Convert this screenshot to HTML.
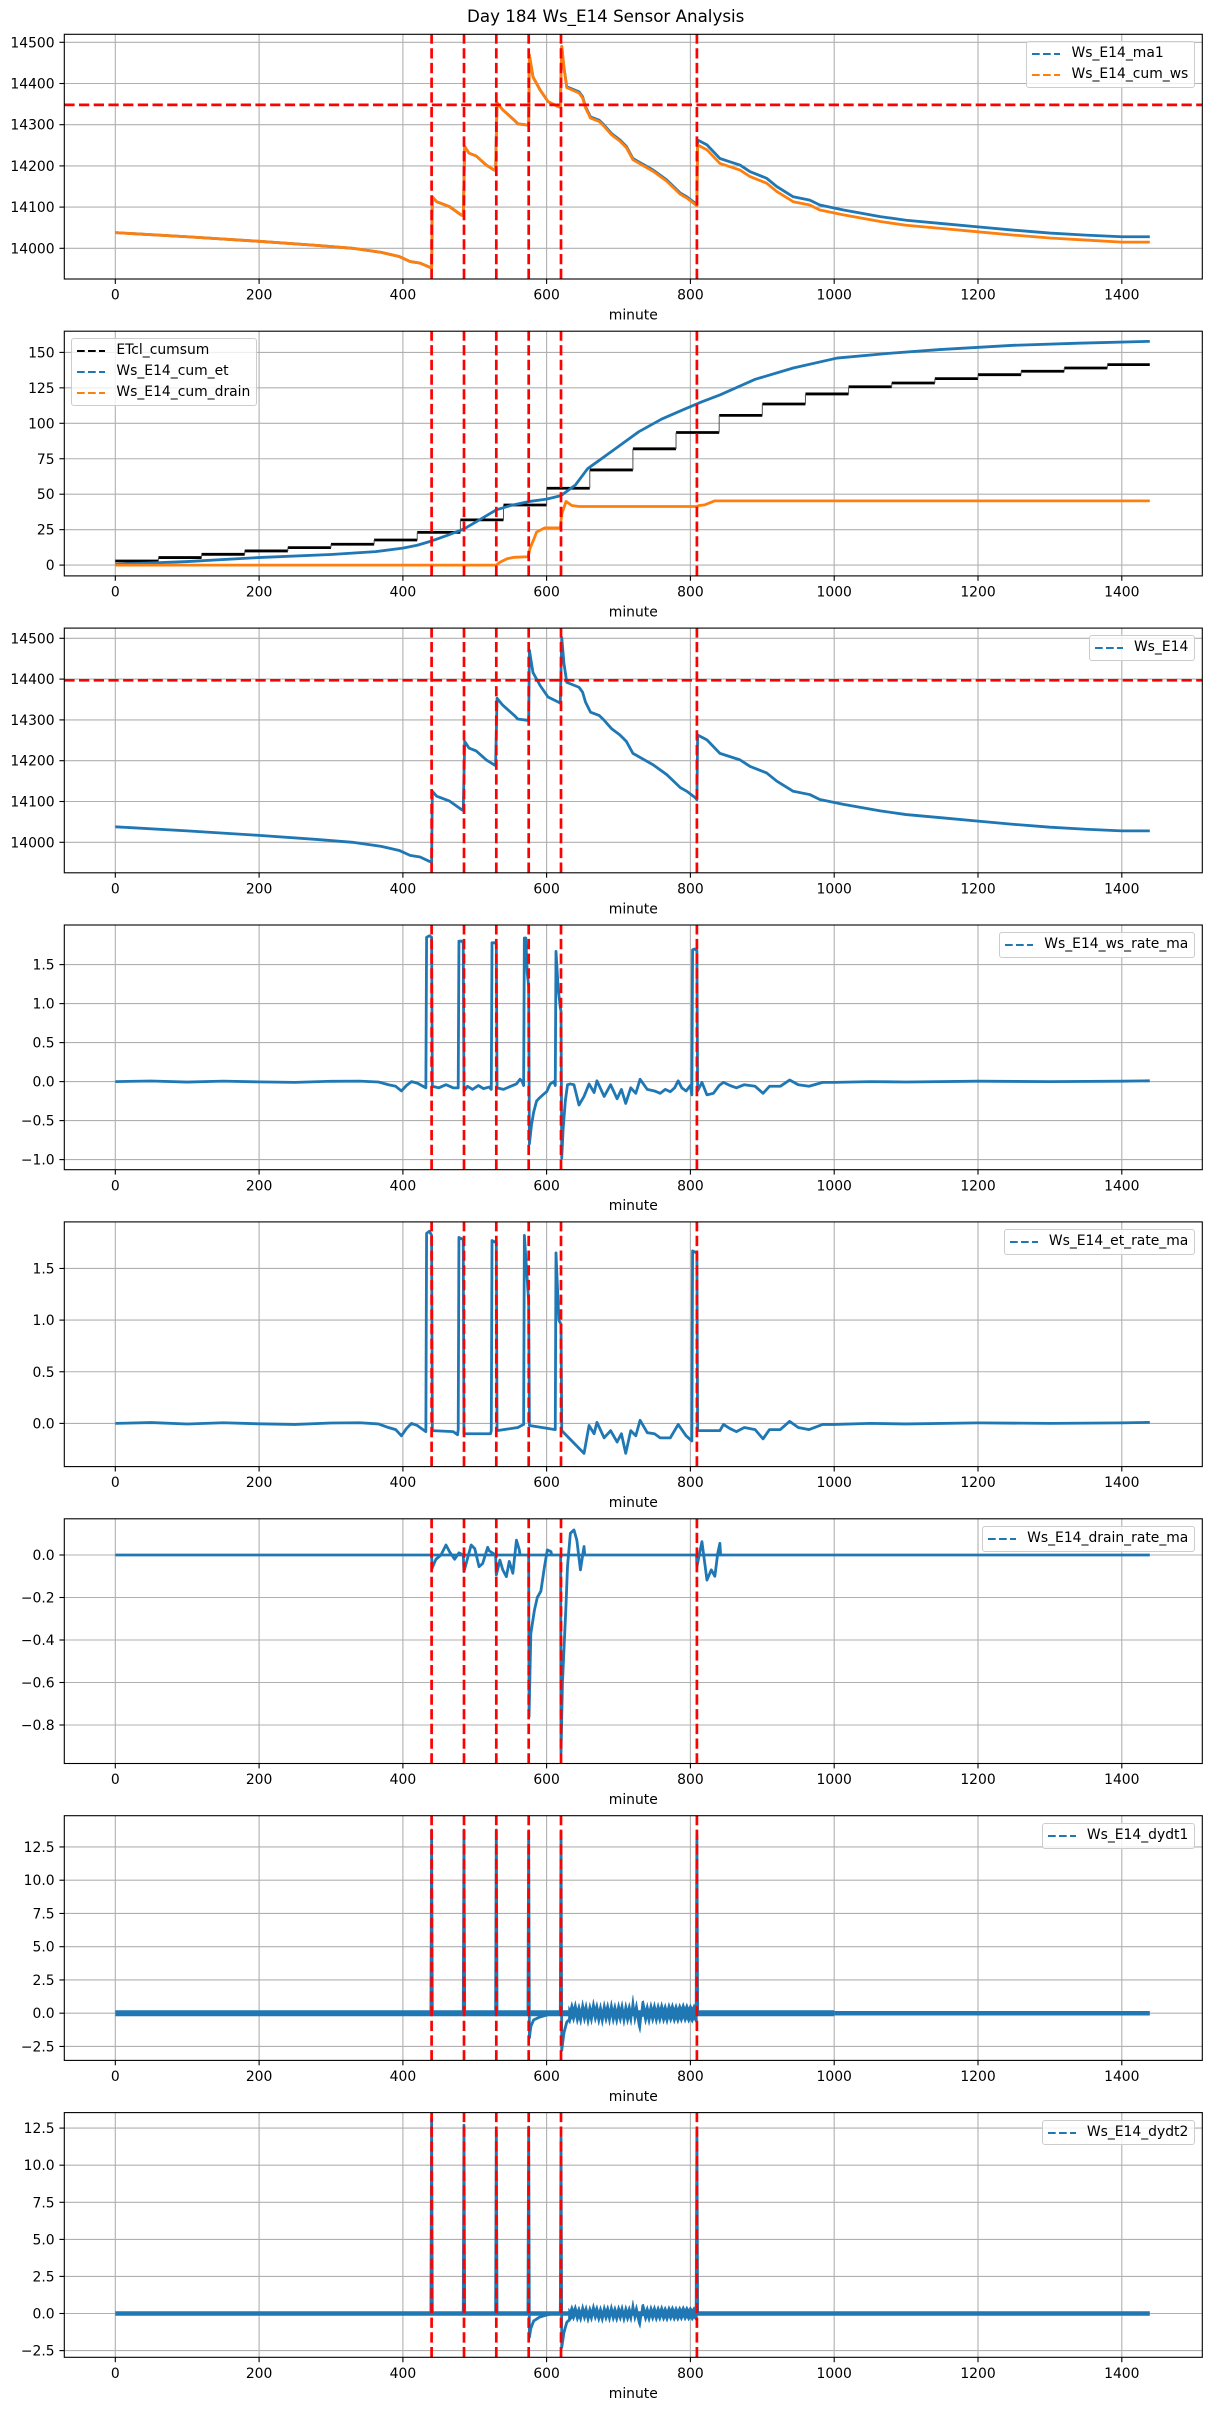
<!DOCTYPE html>
<html><head><meta charset="utf-8"><style>
html,body{margin:0;padding:0;background:#fff;}
#wrap{position:relative;width:1211px;height:2411px;overflow:hidden;background:#fff;}
svg{position:absolute;left:0;top:0;}
svg text{font-family:"DejaVu Sans","Liberation Sans",sans-serif;font-size:13.9px;fill:#000;}
.lg{position:absolute;background:rgba(255,255,255,0.8);border:1px solid #cccccc;border-radius:3px;padding:5px 6px 5px 5px;font-family:"DejaVu Sans","Liberation Sans",sans-serif;font-size:13.9px;line-height:13.9px;color:#000;white-space:nowrap;}
.row{display:flex;align-items:center;height:13.9px;}
.row+.row{margin-top:6.95px;}
.row svg{position:static;display:block;}
.row span{margin-left:11.1px;}
</style></head><body><div id="wrap">
<svg width="1211" height="2411" viewBox="0 0 1211 2411" xmlns="http://www.w3.org/2000/svg">
<defs>
<g id="vg" stroke="#b0b0b0" stroke-width="1.1">
<line x1="115.3" y1="0" x2="115.3" y2="244.7"/><line x1="259.1" y1="0" x2="259.1" y2="244.7"/><line x1="402.9" y1="0" x2="402.9" y2="244.7"/><line x1="546.6" y1="0" x2="546.6" y2="244.7"/><line x1="690.4" y1="0" x2="690.4" y2="244.7"/><line x1="834.2" y1="0" x2="834.2" y2="244.7"/><line x1="978" y1="0" x2="978" y2="244.7"/><line x1="1121.8" y1="0" x2="1121.8" y2="244.7"/>
</g>
<g id="xt" stroke="#000" stroke-width="1.1">
<line x1="115.3" y1="244.7" x2="115.3" y2="249.6"/><line x1="259.1" y1="244.7" x2="259.1" y2="249.6"/><line x1="402.9" y1="244.7" x2="402.9" y2="249.6"/><line x1="546.6" y1="244.7" x2="546.6" y2="249.6"/><line x1="690.4" y1="244.7" x2="690.4" y2="249.6"/><line x1="834.2" y1="244.7" x2="834.2" y2="249.6"/><line x1="978" y1="244.7" x2="978" y2="249.6"/><line x1="1121.8" y1="244.7" x2="1121.8" y2="249.6"/>
</g>
<g id="rv" stroke="#ff0000" stroke-width="2.7" stroke-dasharray="10.3 4.4">
<line x1="431.6" y1="244.7" x2="431.6" y2="0"/><line x1="464" y1="244.7" x2="464" y2="0"/><line x1="496.3" y1="244.7" x2="496.3" y2="0"/><line x1="528.7" y1="244.7" x2="528.7" y2="0"/><line x1="561" y1="244.7" x2="561" y2="0"/><line x1="696.9" y1="244.7" x2="696.9" y2="0"/>
</g>
<rect id="fr" x="64.3" y="0" width="1138" height="244.7" fill="none" stroke="#000" stroke-width="1.1"/>
<path id="zz" d="M630,0 L632.5,-0.4 L635,0.5 L637.5,-0.3 L640,0.6 L642.5,-0.5 L645,0.3 L647.5,-0.6 L650,0.7 L652.5,-0.4 L655,0.5 L657.5,-0.7 L660,0.4 L662.5,-0.5 L665,0.8 L667.5,-0.3 L670,0.5 L672.5,-0.6 L675,0.4 L677.5,-0.7 L680,0.6 L682.5,-0.4 L685,0.5 L687.5,-0.6 L690,0.7 L692.5,-0.5 L695,0.4 L697.5,-0.6 L700,0.5 L702.5,-0.4 L705,0.6 L707.5,-0.7 L710,0.5 L712.5,-0.5 L715,0.4 L717.5,-0.6 L720,1.3 L722.5,-0.5 L725,0.6 L727.5,-0.7 L730,-1.5 L732.5,0.5 L735,0.6 L737.5,-0.5 L740,0.4 L742.5,-0.6 L745,0.5 L747.5,-0.4 L750,0.5 L752.5,-0.5 L755,0.4 L757.5,-0.4 L760,0.5 L762.5,-0.4 L765,0.3 L767.5,-0.5 L770,0.4 L772.5,-0.3 L775,0.4 L777.5,-0.4 L780,0.3 L782.5,-0.4 L785,0.3 L787.5,-0.3 L790,0.4 L792.5,-0.3 L795,0.3 L797.5,-0.3 L800,0.2 L802.5,-0.3 L805,0.2 L807.5,-0.2 L810,0"/>
<clipPath id="c1"><rect x="64.3" y="34.3" width="1138" height="244.7"/></clipPath>
<clipPath id="c2"><rect x="64.3" y="331.2" width="1138" height="244.7"/></clipPath>
<clipPath id="c3"><rect x="64.3" y="628.1" width="1138" height="244.7"/></clipPath>
<clipPath id="c4"><rect x="64.3" y="925" width="1138" height="244.7"/></clipPath>
<clipPath id="c5"><rect x="64.3" y="1221.9" width="1138" height="244.7"/></clipPath>
<clipPath id="c6"><rect x="64.3" y="1518.8" width="1138" height="244.7"/></clipPath>
<clipPath id="c7"><rect x="64.3" y="1815.7" width="1138" height="244.7"/></clipPath>
<clipPath id="c8"><rect x="64.3" y="2112.6" width="1138" height="244.7"/></clipPath>
</defs>
<rect x="0" y="0" width="1211" height="2411" fill="#fff"/>
<text x="605.7" y="22" text-anchor="middle" style="font-size:16.7px">Day 184 Ws_E14 Sensor Analysis</text>

<!-- ============ PANEL 1 ============ -->
<use href="#vg" y="34.3"/>
<g stroke="#b0b0b0" stroke-width="1.1">
<line x1="64.3" x2="1202.3" y1="248.3" y2="248.3"/><line x1="64.3" x2="1202.3" y1="207.1" y2="207.1"/><line x1="64.3" x2="1202.3" y1="165.9" y2="165.9"/><line x1="64.3" x2="1202.3" y1="124.7" y2="124.7"/><line x1="64.3" x2="1202.3" y1="83.5" y2="83.5"/><line x1="64.3" x2="1202.3" y1="42.3" y2="42.3"/>
</g>
<g clip-path="url(#c1)">
<g transform="matrix(0.7189 0 0 -0.412 115.3 248.3)" fill="none" stroke-linejoin="round">
<path vector-effect="non-scaling-stroke" stroke="#1f77b4" stroke-width="2.8" d="M0,38 L100,28 L200,17 L280,7 L330,0 L370,-10 L395,-20 L410,-32 L424,-36 L436,-45 L440,-48 L441,125 L447,113 L465,101 L481,81 L484,79 L486,247 L492,231 L502,224 L516,202 L527,190 L529,189 L531,353 L539,336 L555,311 L560,302 L574,299 L575,300 L576,469 L581,416 L591,384 L602,356 L616,344 L619,343 L621,490 L624,440 L628,392 L645,380 L650,368 L654,344 L661,319 L673,311 L680,299 L690,279 L702,263 L711,247 L720,218 L732,206 L748,190 L767,166 L786,134 L795,125 L807,109 L809,105 L810,263 L823,251 L841,218 L855,210 L869,202 L883,186 L906,170 L920,150 L943,125 L966,117 L980,105 L1013,93 L1064,77 L1100,68 L1150,60 L1200,52 L1250,44 L1300,37 L1350,32 L1400,28 L1439,28"/>
<path vector-effect="non-scaling-stroke" stroke="#ff7f0e" stroke-width="2.8" d="M0,38 L100,28 L200,17 L280,7 L330,0 L370,-10 L395,-20 L410,-32 L424,-36 L436,-45 L440,-48 L441,125 L447,113 L465,101 L481,81 L484,79 L486,247 L492,231 L502,224 L516,202 L527,190 L529,189 L531,353 L539,336 L555,311 L560,302 L574,299 L575,300 L576,469 L581,416 L591,384 L602,356 L616,344 L619,343 L621,490 L624,440 L628,390 L645,377 L650,365 L654,341 L661,316 L673,308 L680,296 L690,276 L702,260 L711,244 L720,215 L732,203 L748,187 L767,163 L786,131 L795,122 L807,106 L809,103 L810,251 L823,239 L841,206 L855,198 L869,190 L883,174 L906,158 L920,138 L943,113 L966,105 L980,93 L1013,81 L1064,65 L1100,56 L1150,48 L1200,40 L1250,32 L1300,25 L1350,20 L1400,15 L1439,15"/>
</g>
<line x1="64.3" x2="1202.3" y1="104.9" y2="104.9" stroke="#ff0000" stroke-width="2.7" stroke-dasharray="10.3 4.4"/>
<use href="#rv" y="34.3"/>
</g>
<use href="#fr" y="34.3"/>
<use href="#xt" y="34.3"/>
<g stroke="#000" stroke-width="1.1">
<line x1="59.4" x2="64.3" y1="248.3" y2="248.3"/><line x1="59.4" x2="64.3" y1="207.1" y2="207.1"/><line x1="59.4" x2="64.3" y1="165.9" y2="165.9"/><line x1="59.4" x2="64.3" y1="124.7" y2="124.7"/><line x1="59.4" x2="64.3" y1="83.5" y2="83.5"/><line x1="59.4" x2="64.3" y1="42.3" y2="42.3"/>
</g>
<g text-anchor="end">
<text x="54.6" y="253.3">14000</text><text x="54.6" y="212.1">14100</text><text x="54.6" y="170.9">14200</text><text x="54.6" y="129.7">14300</text><text x="54.6" y="88.5">14400</text><text x="54.6" y="47.3">14500</text>
</g>
<g text-anchor="middle">
<text x="115.3" y="299.6">0</text><text x="259.1" y="299.6">200</text><text x="402.9" y="299.6">400</text><text x="546.6" y="299.6">600</text><text x="690.4" y="299.6">800</text><text x="834.2" y="299.6">1000</text><text x="978" y="299.6">1200</text><text x="1121.8" y="299.6">1400</text>
<text x="633.3" y="319.5">minute</text>
</g>

<!-- ============ PANEL 2 ============ -->
<use href="#vg" y="331.2"/>
<g stroke="#b0b0b0" stroke-width="1.1">
<line x1="64.3" x2="1202.3" y1="565.1" y2="565.1"/><line x1="64.3" x2="1202.3" y1="529.65" y2="529.65"/><line x1="64.3" x2="1202.3" y1="494.2" y2="494.2"/><line x1="64.3" x2="1202.3" y1="458.75" y2="458.75"/><line x1="64.3" x2="1202.3" y1="423.3" y2="423.3"/><line x1="64.3" x2="1202.3" y1="387.85" y2="387.85"/><line x1="64.3" x2="1202.3" y1="352.4" y2="352.4"/>
</g>
<g clip-path="url(#c2)">
<g transform="matrix(0.7189 0 0 -1.418 115.3 565.1)" fill="none" stroke-linejoin="round">
<path vector-effect="non-scaling-stroke" stroke="#000" stroke-width="2.8" d="M0,2.9 H60 M60,5.3 H120 M120,7.6 H180 M180,10 H240 M240,12.3 H300 M300,14.7 H360 M360,17.7 H420 M420,23.1 H480 M480,31.9 H540 M540,42.4 H600 M600,54.2 H660 M660,67.1 H720 M720,82 H780 M780,93.5 H840 M840,105.6 H900 M900,113.6 H960 M960,120.7 H1020 M1020,125.8 H1080 M1080,128.4 H1140 M1140,131.5 H1200 M1200,134.3 H1260 M1260,136.7 H1320 M1320,139 H1380 M1380,141.4 H1439"/>
<path vector-effect="non-scaling-stroke" stroke="#555" stroke-width="1" d="M60,2.9 V5.3 M120,5.3 V7.6 M180,7.6 V10 M240,10 V12.3 M300,12.3 V14.7 M360,14.7 V17.7 M420,17.7 V23.1 M480,23.1 V31.9 M540,31.9 V42.4 M600,42.4 V54.2 M660,54.2 V67.1 M720,67.1 V82 M780,82 V93.5 M840,93.5 V105.6 M900,105.6 V113.6 M960,113.6 V120.7 M1020,120.7 V125.8 M1080,125.8 V128.4 M1140,128.4 V131.5 M1200,131.5 V134.3 M1260,134.3 V136.7 M1320,136.7 V139 M1380,139 V141.4"/>
<path vector-effect="non-scaling-stroke" stroke="#1f77b4" stroke-width="2.8" d="M0,0.5 L100,2.5 L199,5.3 L300,7.5 L362,9.5 L400,12 L420,14 L440,17 L462,21 L485,25.5 L507,32 L530,39 L550,42 L575,44.8 L600,46.5 L620,49 L640,56.5 L657,68 L690,80 L728,94 L760,103 L790,109.6 L815,115 L841,120 L890,131 L943,139 L1004,146 L1080,149.5 L1147,152 L1249,155 L1340,156.5 L1439,157.8"/>
<path vector-effect="non-scaling-stroke" stroke="#ff7f0e" stroke-width="2.8" d="M0,0 L530,0 L535,2 L545,4.5 L555,5.5 L574,5.9 L577,12 L582,18 L586,23.3 L597,26.2 L619,26.2 L621,36 L627,44.9 L635,42 L645,41.3 L808,41.3 L812,42 L820,42.5 L834,45.3 L1439,45.3"/>
</g>
<use href="#rv" y="331.2"/>
</g>
<use href="#fr" y="331.2"/>
<use href="#xt" y="331.2"/>
<g stroke="#000" stroke-width="1.1">
<line x1="59.4" x2="64.3" y1="565.1" y2="565.1"/><line x1="59.4" x2="64.3" y1="529.65" y2="529.65"/><line x1="59.4" x2="64.3" y1="494.2" y2="494.2"/><line x1="59.4" x2="64.3" y1="458.75" y2="458.75"/><line x1="59.4" x2="64.3" y1="423.3" y2="423.3"/><line x1="59.4" x2="64.3" y1="387.85" y2="387.85"/><line x1="59.4" x2="64.3" y1="352.4" y2="352.4"/>
</g>
<g text-anchor="end">
<text x="54.6" y="570.1">0</text><text x="54.6" y="534.65">25</text><text x="54.6" y="499.2">50</text><text x="54.6" y="463.75">75</text><text x="54.6" y="428.3">100</text><text x="54.6" y="392.85">125</text><text x="54.6" y="357.4">150</text>
</g>
<g text-anchor="middle">
<text x="115.3" y="596.5">0</text><text x="259.1" y="596.5">200</text><text x="402.9" y="596.5">400</text><text x="546.6" y="596.5">600</text><text x="690.4" y="596.5">800</text><text x="834.2" y="596.5">1000</text><text x="978" y="596.5">1200</text><text x="1121.8" y="596.5">1400</text>
<text x="633.3" y="616.4">minute</text>
</g>

<!-- ============ PANEL 3 ============ -->
<use href="#vg" y="628.1"/>
<g stroke="#b0b0b0" stroke-width="1.1">
<line x1="64.3" x2="1202.3" y1="842.3" y2="842.3"/><line x1="64.3" x2="1202.3" y1="801.5" y2="801.5"/><line x1="64.3" x2="1202.3" y1="760.7" y2="760.7"/><line x1="64.3" x2="1202.3" y1="719.9" y2="719.9"/><line x1="64.3" x2="1202.3" y1="679.1" y2="679.1"/><line x1="64.3" x2="1202.3" y1="638.3" y2="638.3"/>
</g>
<g clip-path="url(#c3)">
<g transform="matrix(0.7189 0 0 -0.408 115.3 842.3)" fill="none" stroke-linejoin="round">
<path vector-effect="non-scaling-stroke" stroke="#1f77b4" stroke-width="2.8" d="M0,38 L100,28 L200,17 L280,7 L330,0 L370,-10 L395,-20 L410,-32 L424,-36 L436,-46 L440,-49 L441,125 L447,113 L465,101 L481,81 L484,78 L486,247 L492,231 L502,224 L516,202 L527,190 L529,188 L531,353 L539,336 L555,311 L560,302 L574,299 L575,299 L576,471 L581,416 L591,384 L602,356 L616,344 L619,341 L621,502 L624,440 L628,392 L645,380 L650,368 L654,344 L661,319 L673,311 L680,299 L690,279 L702,263 L711,247 L720,218 L732,206 L748,190 L767,166 L786,134 L795,125 L807,109 L809,104 L810,263 L823,251 L841,218 L855,210 L869,202 L883,186 L906,170 L920,150 L943,125 L966,117 L980,105 L1013,93 L1064,77 L1100,68 L1150,60 L1200,52 L1250,44 L1300,37 L1350,32 L1400,28 L1439,28"/>
</g>
<line x1="64.3" x2="1202.3" y1="680.3" y2="680.3" stroke="#ff0000" stroke-width="2.7" stroke-dasharray="10.3 4.4"/>
<use href="#rv" y="628.1"/>
</g>
<use href="#fr" y="628.1"/>
<use href="#xt" y="628.1"/>
<g stroke="#000" stroke-width="1.1">
<line x1="59.4" x2="64.3" y1="842.3" y2="842.3"/><line x1="59.4" x2="64.3" y1="801.5" y2="801.5"/><line x1="59.4" x2="64.3" y1="760.7" y2="760.7"/><line x1="59.4" x2="64.3" y1="719.9" y2="719.9"/><line x1="59.4" x2="64.3" y1="679.1" y2="679.1"/><line x1="59.4" x2="64.3" y1="638.3" y2="638.3"/>
</g>
<g text-anchor="end">
<text x="54.6" y="847.3">14000</text><text x="54.6" y="806.5">14100</text><text x="54.6" y="765.7">14200</text><text x="54.6" y="724.9">14300</text><text x="54.6" y="684.1">14400</text><text x="54.6" y="643.3">14500</text>
</g>
<g text-anchor="middle">
<text x="115.3" y="893.4">0</text><text x="259.1" y="893.4">200</text><text x="402.9" y="893.4">400</text><text x="546.6" y="893.4">600</text><text x="690.4" y="893.4">800</text><text x="834.2" y="893.4">1000</text><text x="978" y="893.4">1200</text><text x="1121.8" y="893.4">1400</text>
<text x="633.3" y="913.3">minute</text>
</g>

<!-- ============ PANEL 4 ============ -->
<use href="#vg" y="925"/>
<g stroke="#b0b0b0" stroke-width="1.1">
<line x1="64.3" x2="1202.3" y1="1159.6" y2="1159.6"/><line x1="64.3" x2="1202.3" y1="1120.6" y2="1120.6"/><line x1="64.3" x2="1202.3" y1="1081.6" y2="1081.6"/><line x1="64.3" x2="1202.3" y1="1042.6" y2="1042.6"/><line x1="64.3" x2="1202.3" y1="1003.6" y2="1003.6"/><line x1="64.3" x2="1202.3" y1="964.6" y2="964.6"/>
</g>
<g clip-path="url(#c4)">
<g transform="matrix(0.7189 0 0 -78 115.3 1081.6)" fill="none" stroke-linejoin="round">
<path vector-effect="non-scaling-stroke" stroke="#1f77b4" stroke-width="2.8" d="M0,0 L50,0.008 L100,-0.006 L150,0.006 L200,-0.004 L250,-0.01 L300,0.004 L340,0.006 L366,-0.005 L380,-0.04 L390,-0.06 L398,-0.12 L405,-0.05 L412,0 L420,-0.02 L428,-0.06 L432,-0.08 L433,1.85 L437,1.87 L440,1.85 L441,-0.06 L450,-0.08 L460,-0.04 L470,-0.08 L477,-0.08 L478,1.8 L482,1.8 L484,1.78 L485,-0.12 L490,-0.06 L497,-0.1 L505,-0.05 L512,-0.09 L520,-0.07 L523,-0.1 L524,1.78 L528,1.78 L530,1.76 L531,-0.08 L540,-0.1 L550,-0.06 L558,-0.03 L563,0.03 L566,0 L568,-0.05 L569,1.84 L571,1.84 L573,1.4 L575,1.22 L576,-0.8 L579,-0.55 L582,-0.39 L586,-0.25 L590,-0.21 L596,-0.16 L600,-0.13 L605,-0.03 L610,0 L612,-0.05 L613,1.67 L616,1.2 L619,0.95 L620,0.9 L621,-0.98 L623,-0.6 L626,-0.25 L629,-0.04 L633,-0.03 L638,-0.04 L645,-0.3 L652,-0.19 L659,-0.03 L666,-0.14 L670,0.01 L680,-0.19 L689,-0.04 L698,-0.22 L704,-0.1 L710,-0.28 L717,-0.08 L724,-0.15 L730,0.03 L740,-0.1 L750,-0.12 L758,-0.15 L765,-0.1 L772,-0.13 L778,-0.08 L783,0.01 L788,-0.08 L794,-0.12 L800,-0.05 L802,-0.17 L803,1.69 L806,1.7 L809,1.68 L810,-0.12 L816,-0.01 L823,-0.17 L832,-0.15 L840,-0.05 L846,-0.01 L855,-0.05 L864,-0.08 L875,-0.04 L890,-0.06 L901,-0.15 L910,-0.06 L925,-0.06 L938,0.02 L950,-0.04 L965,-0.06 L984,-0.01 L1000,-0.01 L1050,0 L1100,-0.005 L1200,0.005 L1300,0 L1400,0.005 L1439,0.01"/>
</g>
<use href="#rv" y="925"/>
</g>
<use href="#fr" y="925"/>
<use href="#xt" y="925"/>
<g stroke="#000" stroke-width="1.1">
<line x1="59.4" x2="64.3" y1="1159.6" y2="1159.6"/><line x1="59.4" x2="64.3" y1="1120.6" y2="1120.6"/><line x1="59.4" x2="64.3" y1="1081.6" y2="1081.6"/><line x1="59.4" x2="64.3" y1="1042.6" y2="1042.6"/><line x1="59.4" x2="64.3" y1="1003.6" y2="1003.6"/><line x1="59.4" x2="64.3" y1="964.6" y2="964.6"/>
</g>
<g text-anchor="end">
<text x="54.6" y="1164.6">−1.0</text><text x="54.6" y="1125.6">−0.5</text><text x="54.6" y="1086.6">0.0</text><text x="54.6" y="1047.6">0.5</text><text x="54.6" y="1008.6">1.0</text><text x="54.6" y="969.6">1.5</text>
</g>
<g text-anchor="middle">
<text x="115.3" y="1190.3">0</text><text x="259.1" y="1190.3">200</text><text x="402.9" y="1190.3">400</text><text x="546.6" y="1190.3">600</text><text x="690.4" y="1190.3">800</text><text x="834.2" y="1190.3">1000</text><text x="978" y="1190.3">1200</text><text x="1121.8" y="1190.3">1400</text>
<text x="633.3" y="1210.2">minute</text>
</g>

<!-- ============ PANEL 5 ============ -->
<use href="#vg" y="1221.9"/>
<g stroke="#b0b0b0" stroke-width="1.1">
<line x1="64.3" x2="1202.3" y1="1423.4" y2="1423.4"/><line x1="64.3" x2="1202.3" y1="1371.75" y2="1371.75"/><line x1="64.3" x2="1202.3" y1="1320.1" y2="1320.1"/><line x1="64.3" x2="1202.3" y1="1268.45" y2="1268.45"/>
</g>
<g clip-path="url(#c5)">
<g transform="matrix(0.7189 0 0 -103.3 115.3 1423.4)" fill="none" stroke-linejoin="round">
<path vector-effect="non-scaling-stroke" stroke="#1f77b4" stroke-width="2.8" d="M0,0 L50,0.008 L100,-0.006 L150,0.006 L200,-0.004 L250,-0.01 L300,0.004 L340,0.006 L366,-0.005 L380,-0.04 L390,-0.06 L398,-0.12 L405,-0.05 L412,0 L420,-0.02 L428,-0.06 L432,-0.08 L433,1.84 L437,1.86 L440,1.82 L441,-0.07 L470,-0.08 L476,-0.11 L477,-0.06 L478,1.8 L484,1.78 L485,-0.1 L522,-0.1 L523,-0.07 L524,1.77 L530,1.75 L531,-0.07 L560,-0.04 L568,-0.01 L569,1.82 L572,1.5 L575,1.18 L576,-0.02 L612,-0.06 L613,1.65 L617,1 L620,0.96 L621,-0.07 L652,-0.29 L659,-0.02 L666,-0.1 L670,0.01 L680,-0.14 L689,-0.07 L698,-0.18 L704,-0.1 L710,-0.29 L717,-0.07 L724,-0.12 L730,0.03 L740,-0.09 L750,-0.1 L758,-0.14 L772,-0.14 L783,-0.01 L794,-0.12 L802,-0.17 L803,1.67 L809,1.65 L810,-0.07 L841,-0.07 L846,-0.01 L855,-0.05 L864,-0.08 L875,-0.04 L890,-0.06 L901,-0.15 L910,-0.06 L925,-0.06 L938,0.02 L950,-0.04 L965,-0.06 L984,-0.01 L1000,-0.01 L1050,0 L1100,-0.005 L1200,0.005 L1300,0 L1400,0.005 L1439,0.01"/>
</g>
<use href="#rv" y="1221.9"/>
</g>
<use href="#fr" y="1221.9"/>
<use href="#xt" y="1221.9"/>
<g stroke="#000" stroke-width="1.1">
<line x1="59.4" x2="64.3" y1="1423.4" y2="1423.4"/><line x1="59.4" x2="64.3" y1="1371.75" y2="1371.75"/><line x1="59.4" x2="64.3" y1="1320.1" y2="1320.1"/><line x1="59.4" x2="64.3" y1="1268.45" y2="1268.45"/>
</g>
<g text-anchor="end">
<text x="54.6" y="1428.4">0.0</text><text x="54.6" y="1376.75">0.5</text><text x="54.6" y="1325.1">1.0</text><text x="54.6" y="1273.45">1.5</text>
</g>
<g text-anchor="middle">
<text x="115.3" y="1487.2">0</text><text x="259.1" y="1487.2">200</text><text x="402.9" y="1487.2">400</text><text x="546.6" y="1487.2">600</text><text x="690.4" y="1487.2">800</text><text x="834.2" y="1487.2">1000</text><text x="978" y="1487.2">1200</text><text x="1121.8" y="1487.2">1400</text>
<text x="633.3" y="1507.1">minute</text>
</g>

<!-- ============ PANEL 6 ============ -->
<use href="#vg" y="1518.8"/>
<g stroke="#b0b0b0" stroke-width="1.1">
<line x1="64.3" x2="1202.3" y1="1555" y2="1555"/><line x1="64.3" x2="1202.3" y1="1597.5" y2="1597.5"/><line x1="64.3" x2="1202.3" y1="1640" y2="1640"/><line x1="64.3" x2="1202.3" y1="1682.5" y2="1682.5"/><line x1="64.3" x2="1202.3" y1="1725" y2="1725"/>
</g>
<g clip-path="url(#c6)">
<g transform="matrix(0.7189 0 0 -212.5 115.3 1555)" fill="none" stroke-linejoin="round">
<path vector-effect="non-scaling-stroke" stroke="#1f77b4" stroke-width="2.8" d="M0,0 L1439,0"/>
<path vector-effect="non-scaling-stroke" stroke="#1f77b4" stroke-width="2.8" d="M440,0 L440.5,-0.063 L446,-0.02 L453,0 L460,0.047 L465,0.015 L470,-0.01 L472,-0.02 L478,0.01 L484,0 L485,-0.078 L495,0.047 L500,0.03 L506,-0.055 L511,-0.04 L518,0.036 L520,0.02 L529,0 L530,-0.094 L535,-0.024 L539,-0.07 L544,-0.102 L548,-0.03 L553,-0.086 L558,0.07 L562,0.024 L563,0 M575,0 L575.5,-0.76 L578,-0.37 L583,-0.26 L587,-0.2 L592,-0.17 L597,-0.055 L601,0.024 L606,0.016 L607,0 M619.5,0 L620,-0.93 L622,-0.6 L625,-0.38 L627,-0.23 L629,-0.055 L633,0.102 L638,0.118 L642,0.07 L647,-0.07 L652,0.04 L653,0 M808.5,0 L809,-0.055 L816,0.063 L820,-0.04 L823,-0.118 L829,-0.07 L834,-0.1 L838,0.008 L841,0.055 L842,0"/>
</g>
<use href="#rv" y="1518.8"/>
</g>
<use href="#fr" y="1518.8"/>
<use href="#xt" y="1518.8"/>
<g stroke="#000" stroke-width="1.1">
<line x1="59.4" x2="64.3" y1="1555" y2="1555"/><line x1="59.4" x2="64.3" y1="1597.5" y2="1597.5"/><line x1="59.4" x2="64.3" y1="1640" y2="1640"/><line x1="59.4" x2="64.3" y1="1682.5" y2="1682.5"/><line x1="59.4" x2="64.3" y1="1725" y2="1725"/>
</g>
<g text-anchor="end">
<text x="54.6" y="1560">0.0</text><text x="54.6" y="1602.5">−0.2</text><text x="54.6" y="1645">−0.4</text><text x="54.6" y="1687.5">−0.6</text><text x="54.6" y="1730">−0.8</text>
</g>
<g text-anchor="middle">
<text x="115.3" y="1784.1">0</text><text x="259.1" y="1784.1">200</text><text x="402.9" y="1784.1">400</text><text x="546.6" y="1784.1">600</text><text x="690.4" y="1784.1">800</text><text x="834.2" y="1784.1">1000</text><text x="978" y="1784.1">1200</text><text x="1121.8" y="1784.1">1400</text>
<text x="633.3" y="1804">minute</text>
</g>

<!-- ============ PANEL 7 ============ -->
<use href="#vg" y="1815.7"/>
<g stroke="#b0b0b0" stroke-width="1.1">
<line x1="64.3" x2="1202.3" y1="2046.45" y2="2046.45"/><line x1="64.3" x2="1202.3" y1="2013.2" y2="2013.2"/><line x1="64.3" x2="1202.3" y1="1979.95" y2="1979.95"/><line x1="64.3" x2="1202.3" y1="1946.7" y2="1946.7"/><line x1="64.3" x2="1202.3" y1="1913.45" y2="1913.45"/><line x1="64.3" x2="1202.3" y1="1880.2" y2="1880.2"/><line x1="64.3" x2="1202.3" y1="1846.95" y2="1846.95"/>
</g>
<g clip-path="url(#c7)">
<g transform="matrix(0.7189 0 0 -13.3 115.3 2013.2)" fill="none" stroke-linejoin="round">
<path vector-effect="non-scaling-stroke" stroke="#1f77b4" stroke-width="6" d="M0,0 L1000,0"/>
<path vector-effect="non-scaling-stroke" stroke="#1f77b4" stroke-width="4.5" d="M1000,0 L1439,0"/>
<path vector-effect="non-scaling-stroke" stroke="#1f77b4" stroke-width="2.8" d="M439,0 L440,13.77 L441,0 M484,0 L485,13.77 L486,0 M529,0 L530,13.77 L531,0 M574,0 L575,13.64 L576,-1.86 L578,-1 L582,-0.5 L590,-0.3 L600,-0.15 L610,0 M619,0 L620,13.64 L621,-2.8 L624,-1.5 L628,-0.66 L635,-0.3 L640,0 M808,0 L809,13.38 L810,0"/>
</g>
<g transform="matrix(0.7189 0 0 -8 115.3 2013.2)" fill="none" stroke-linejoin="round">
<use href="#zz" vector-effect="non-scaling-stroke" stroke="#1f77b4" stroke-width="2"/>
</g>
<use href="#rv" y="1815.7"/>
</g>
<use href="#fr" y="1815.7"/>
<use href="#xt" y="1815.7"/>
<g stroke="#000" stroke-width="1.1">
<line x1="59.4" x2="64.3" y1="2046.45" y2="2046.45"/><line x1="59.4" x2="64.3" y1="2013.2" y2="2013.2"/><line x1="59.4" x2="64.3" y1="1979.95" y2="1979.95"/><line x1="59.4" x2="64.3" y1="1946.7" y2="1946.7"/><line x1="59.4" x2="64.3" y1="1913.45" y2="1913.45"/><line x1="59.4" x2="64.3" y1="1880.2" y2="1880.2"/><line x1="59.4" x2="64.3" y1="1846.95" y2="1846.95"/>
</g>
<g text-anchor="end">
<text x="54.6" y="2051.45">−2.5</text><text x="54.6" y="2018.2">0.0</text><text x="54.6" y="1984.95">2.5</text><text x="54.6" y="1951.7">5.0</text><text x="54.6" y="1918.45">7.5</text><text x="54.6" y="1885.2">10.0</text><text x="54.6" y="1851.95">12.5</text>
</g>
<g text-anchor="middle">
<text x="115.3" y="2081">0</text><text x="259.1" y="2081">200</text><text x="402.9" y="2081">400</text><text x="546.6" y="2081">600</text><text x="690.4" y="2081">800</text><text x="834.2" y="2081">1000</text><text x="978" y="2081">1200</text><text x="1121.8" y="2081">1400</text>
<text x="633.3" y="2100.9">minute</text>
</g>

<!-- ============ PANEL 8 ============ -->
<use href="#vg" y="2112.6"/>
<g stroke="#b0b0b0" stroke-width="1.1">
<line x1="64.3" x2="1202.3" y1="2350.6" y2="2350.6"/><line x1="64.3" x2="1202.3" y1="2313.5" y2="2313.5"/><line x1="64.3" x2="1202.3" y1="2276.4" y2="2276.4"/><line x1="64.3" x2="1202.3" y1="2239.4" y2="2239.4"/><line x1="64.3" x2="1202.3" y1="2202.3" y2="2202.3"/><line x1="64.3" x2="1202.3" y1="2165.2" y2="2165.2"/><line x1="64.3" x2="1202.3" y1="2128.1" y2="2128.1"/>
</g>
<g clip-path="url(#c8)">
<g transform="matrix(0.7189 0 0 -14.83 115.3 2313.5)" fill="none" stroke-linejoin="round">
<path vector-effect="non-scaling-stroke" stroke="#1f77b4" stroke-width="4.5" d="M0,0 L1439,0"/>
<path vector-effect="non-scaling-stroke" stroke="#1f77b4" stroke-width="2.8" d="M439,0 L440,13.17 L441,0 M484,0 L485,12.7 L486,0 M529,0 L530,12.33 L531,0 M574,0 L575,12.57 L576,-1.6 L578,-1 L582,-0.5 L590,-0.25 L600,-0.1 L610,0 M619,0 L620,11.86 L621,-2.3 L624,-1.3 L628,-0.6 L635,-0.25 L640,0 M808,0 L809,12.33 L810,0"/>
</g>
<g transform="matrix(0.7189 0 0 -6 115.3 2313.5)" fill="none" stroke-linejoin="round">
<use href="#zz" vector-effect="non-scaling-stroke" stroke="#1f77b4" stroke-width="2"/>
</g>
<use href="#rv" y="2112.6"/>
</g>
<use href="#fr" y="2112.6"/>
<use href="#xt" y="2112.6"/>
<g stroke="#000" stroke-width="1.1">
<line x1="59.4" x2="64.3" y1="2350.6" y2="2350.6"/><line x1="59.4" x2="64.3" y1="2313.5" y2="2313.5"/><line x1="59.4" x2="64.3" y1="2276.4" y2="2276.4"/><line x1="59.4" x2="64.3" y1="2239.4" y2="2239.4"/><line x1="59.4" x2="64.3" y1="2202.3" y2="2202.3"/><line x1="59.4" x2="64.3" y1="2165.2" y2="2165.2"/><line x1="59.4" x2="64.3" y1="2128.1" y2="2128.1"/>
</g>
<g text-anchor="end">
<text x="54.6" y="2355.6">−2.5</text><text x="54.6" y="2318.5">0.0</text><text x="54.6" y="2281.4">2.5</text><text x="54.6" y="2244.4">5.0</text><text x="54.6" y="2207.3">7.5</text><text x="54.6" y="2170.2">10.0</text><text x="54.6" y="2133.1">12.5</text>
</g>
<g text-anchor="middle">
<text x="115.3" y="2377.9">0</text><text x="259.1" y="2377.9">200</text><text x="402.9" y="2377.9">400</text><text x="546.6" y="2377.9">600</text><text x="690.4" y="2377.9">800</text><text x="834.2" y="2377.9">1000</text><text x="978" y="2377.9">1200</text><text x="1121.8" y="2377.9">1400</text>
<text x="633.3" y="2397.8">minute</text>
</g>
</svg>

<!-- Legends -->
<div class="lg" style="right:15.7px;top:41.3px;">
<div class="row"><svg width="28" height="10"><line x1="0" y1="5" x2="28" y2="5" stroke="#1f77b4" stroke-width="2.1" stroke-dasharray="7.7 3.3"/></svg><span>Ws_E14_ma1</span></div>
<div class="row"><svg width="28" height="10"><line x1="0" y1="5" x2="28" y2="5" stroke="#ff7f0e" stroke-width="2.1" stroke-dasharray="7.7 3.3"/></svg><span>Ws_E14_cum_ws</span></div>
</div>
<div class="lg" style="left:71.3px;top:338.2px;">
<div class="row"><svg width="28" height="10"><line x1="0" y1="5" x2="28" y2="5" stroke="#000" stroke-width="2.1" stroke-dasharray="7.7 3.3"/></svg><span>ETcl_cumsum</span></div>
<div class="row"><svg width="28" height="10"><line x1="0" y1="5" x2="28" y2="5" stroke="#1f77b4" stroke-width="2.1" stroke-dasharray="7.7 3.3"/></svg><span>Ws_E14_cum_et</span></div>
<div class="row"><svg width="28" height="10"><line x1="0" y1="5" x2="28" y2="5" stroke="#ff7f0e" stroke-width="2.1" stroke-dasharray="7.7 3.3"/></svg><span>Ws_E14_cum_drain</span></div>
</div>
<div class="lg" style="right:15.7px;top:635.1px;">
<div class="row"><svg width="28" height="10"><line x1="0" y1="5" x2="28" y2="5" stroke="#1f77b4" stroke-width="2.1" stroke-dasharray="7.7 3.3"/></svg><span>Ws_E14</span></div>
</div>
<div class="lg" style="right:15.7px;top:932px;">
<div class="row"><svg width="28" height="10"><line x1="0" y1="5" x2="28" y2="5" stroke="#1f77b4" stroke-width="2.1" stroke-dasharray="7.7 3.3"/></svg><span>Ws_E14_ws_rate_ma</span></div>
</div>
<div class="lg" style="right:15.7px;top:1228.9px;">
<div class="row"><svg width="28" height="10"><line x1="0" y1="5" x2="28" y2="5" stroke="#1f77b4" stroke-width="2.1" stroke-dasharray="7.7 3.3"/></svg><span>Ws_E14_et_rate_ma</span></div>
</div>
<div class="lg" style="right:15.7px;top:1525.8px;">
<div class="row"><svg width="28" height="10"><line x1="0" y1="5" x2="28" y2="5" stroke="#1f77b4" stroke-width="2.1" stroke-dasharray="7.7 3.3"/></svg><span>Ws_E14_drain_rate_ma</span></div>
</div>
<div class="lg" style="right:15.7px;top:1822.7px;">
<div class="row"><svg width="28" height="10"><line x1="0" y1="5" x2="28" y2="5" stroke="#1f77b4" stroke-width="2.1" stroke-dasharray="7.7 3.3"/></svg><span>Ws_E14_dydt1</span></div>
</div>
<div class="lg" style="right:15.7px;top:2119.6px;">
<div class="row"><svg width="28" height="10"><line x1="0" y1="5" x2="28" y2="5" stroke="#1f77b4" stroke-width="2.1" stroke-dasharray="7.7 3.3"/></svg><span>Ws_E14_dydt2</span></div>
</div>
</div></body></html>
